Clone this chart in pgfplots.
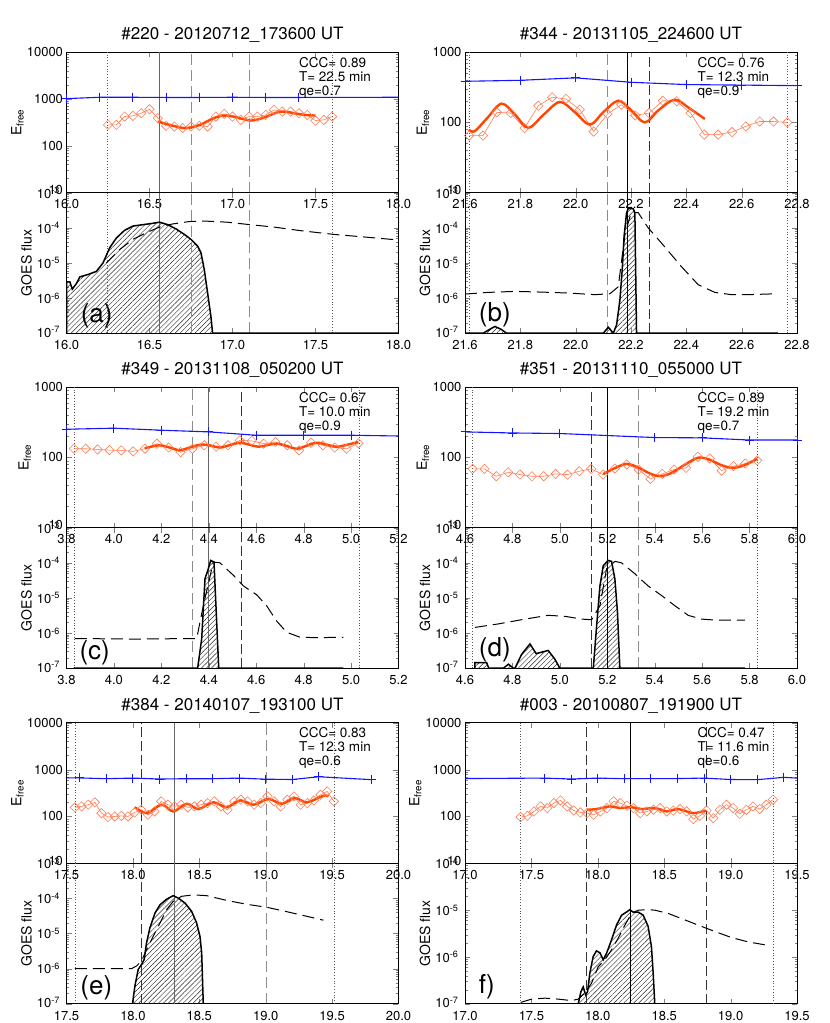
\documentclass[border=0pt]{standalone}
\usepackage{fontspec}
\setmainfont{TeX Gyre Heros}
\usepackage{pgfplots}
\pgfplotsset{compat=1.18}
\usepackage{pgfplotstable}
\usetikzlibrary{patterns.meta}

\definecolor{fitc}{RGB}{255,69,0}
\definecolor{diac}{RGB}{255,125,85}
\definecolor{bluec}{RGB}{20,20,255}

\tikzset{anno/.style={anchor=base west, inner sep=0pt, font=\fontsize{13.5}{15}\selectfont},
  plab/.style={inner sep=0pt, font=\fontsize{26}{28}\selectfont},
  zblm/.style={bluec, line width=1.1pt, mark=+, mark size=4.5pt, mark options={line width=0.9pt, solid}},
  zbln/.style={bluec, line width=1.1pt},
  zdia/.style={diac, line width=0.6pt, mark=square, mark size=3.3pt, mark options={rotate=45, line width=0.6pt}},
  zfit/.style={fitc, line width=2.4pt, smooth, tension=0.55},
  zdashg/.style={black!45, line width=1pt, dash pattern=on 11pt off 5pt},
  zdashk/.style={black!80, line width=0.6pt, dash pattern=on 10pt off 4pt},
  zsolg/.style={black!60, line width=0.8pt},
  zsolk/.style={black, line width=0.6pt},
  zdotl/.style={black!65, line width=0.7pt, dash pattern=on 0.8pt off 2pt},
  zgoes/.style={black, line width=1.5pt},
  zgoesd/.style={black, line width=1pt, dash pattern=on 12pt off 6pt},
  zhatch/.style={draw=none, pattern={Lines[angle=45,distance=3.5pt,line width=0.45pt]}, pattern color=black!85}}

\pgfplotsset{every axis/.append style={scale only axis, width=332pt, height=140.5pt, tick align=inside,
    major tick length=5pt, minor tick length=2.5pt,
    axis line style={line width=0.7pt},
    tick label style={font=\fontsize{13}{15}\selectfont},
    xticklabel style={yshift=-3.5pt},
    ymode=log, clip=true,
    title style={at={(0.5,1)}, anchor=base, yshift=6.5pt, font=\fontsize{17}{19}\selectfont},
    ylabel style={font=\fontsize{14}{16}\selectfont, anchor=south}}}

\pgfplotsset{
  zttop/.style={anchor=south west, ymin=10, ymax=10000, ytick={10,100,1000,10000},
    yticklabels={\raisebox{5pt}{10},100,1000,\raisebox{-3pt}{10000}},
    minor ytick={20,30,40,50,60,70,80,90,200,300,400,500,600,700,800,900,2000,3000,4000,5000,6000,7000,8000,9000},
    ylabel={E\textsubscript{free}}},
  zstop/.style={anchor=south west, ymin=10, ymax=1000, ytick={10,100,1000},
    yticklabels={\raisebox{5pt}{10},100,\raisebox{-3pt}{1000}},
    minor ytick={20,30,40,50,60,70,80,90,200,300,400,500,600,700,800,900},
    ylabel={E\textsubscript{free}}},
  ztbot/.style={anchor=north west, ymin=1e-7, ymax=1e-3, ytick={1e-7,1e-6,1e-5,1e-4,1e-3},
    yticklabels={\raisebox{3pt}{10\textsuperscript{-7}},10\textsuperscript{-6},10\textsuperscript{-5},10\textsuperscript{-4},\raisebox{-3pt}{10\textsuperscript{-3}}},
    minor ytick={2e-7,3e-7,4e-7,5e-7,6e-7,7e-7,8e-7,9e-7,2e-6,3e-6,4e-6,5e-6,6e-6,7e-6,8e-6,9e-6,2e-5,3e-5,4e-5,5e-5,6e-5,7e-5,8e-5,9e-5,2e-4,3e-4,4e-4,5e-4,6e-4,7e-4,8e-4,9e-4},
    yticklabel style={xshift=-3pt}, ylabel={GOES flux},
    ylabel style={at={(axis description cs:-0.094,0.5)}}},
  zsbot/.style={anchor=north west, ymin=1e-7, ymax=1e-4, ytick={1e-7,1e-6,1e-5,1e-4},
    yticklabels={\raisebox{3pt}{10\textsuperscript{-7}},10\textsuperscript{-6},10\textsuperscript{-5},\raisebox{-3pt}{10\textsuperscript{-4}}},
    minor ytick={2e-7,3e-7,4e-7,5e-7,6e-7,7e-7,8e-7,9e-7,2e-6,3e-6,4e-6,5e-6,6e-6,7e-6,8e-6,9e-6,2e-5,3e-5,4e-5,5e-5,6e-5,7e-5,8e-5,9e-5},
    yticklabel style={xshift=-3pt}, ylabel={GOES flux},
    ylabel style={at={(axis description cs:-0.094,0.5)}}},
  zxa/.style={xmin=16, xmax=18, xtick={16,16.5,17,17.5,18}, xticklabels={16.0,16.5,17.0,17.5,18.0}},
  zxb/.style={xmin=21.6, xmax=22.8, xtick={21.6,21.8,22.0,22.2,22.4,22.6,22.8}, xticklabels={21.6,21.8,22.0,22.2,22.4,22.6,22.8}},
  zxc/.style={xmin=3.8, xmax=5.2, xtick={3.8,4.0,4.2,4.4,4.6,4.8,5.0,5.2}, xticklabels={3.8,4.0,4.2,4.4,4.6,4.8,5.0,5.2}},
  zxd/.style={xmin=4.6, xmax=6.0, xtick={4.6,4.8,5.0,5.2,5.4,5.6,5.8,6.0}, xticklabels={4.6,4.8,5.0,5.2,5.4,5.6,5.8,6.0}},
  zxe/.style={xmin=17.5, xmax=20.0, xtick={17.5,18,18.5,19,19.5,20}, xticklabels={17.5,18.0,18.5,19.0,19.5,20.0}},
  zxf/.style={xmin=17.0, xmax=19.5, xtick={17,17.5,18,18.5,19,19.5}, xticklabels={17.0,17.5,18.0,18.5,19.0,19.5}},
}

\newcommand{\vln}[4]{\addplot[#1] coordinates {(#2,#3) (#2,#4)};}
\newcommand{\vla}[2]{\vln{zdotl}{16.245}{#1}{#2}\vln{zdotl}{17.60}{#1}{#2}\vln{zdashg}{16.75}{#1}{#2}\vln{zdashg}{17.10}{#1}{#2}\vln{zsolg}{16.56}{#1}{#2}}
\newcommand{\vlb}[2]{\vln{zdotl}{21.615}{#1}{#2}\vln{zdotl}{22.765}{#1}{#2}\vln{zdashg}{22.115}{#1}{#2}\vln{zdashk}{22.266}{#1}{#2}\vln{zsolk}{22.186}{#1}{#2}}
\newcommand{\vlc}[2]{\vln{zdotl}{3.831}{#1}{#2}\vln{zdotl}{5.034}{#1}{#2}\vln{zdashg}{4.332}{#1}{#2}\vln{zdashk}{4.535}{#1}{#2}\vln{zsolg}{4.40}{#1}{#2}}
\newcommand{\vld}[2]{\vln{zdotl}{4.632}{#1}{#2}\vln{zdotl}{5.832}{#1}{#2}\vln{zdashk}{5.131}{#1}{#2}\vln{zdashg}{5.333}{#1}{#2}\vln{zsolk}{5.201}{#1}{#2}}
\newcommand{\vle}[2]{\vln{zdotl}{17.563}{#1}{#2}\vln{zdotl}{19.515}{#1}{#2}\vln{zdashk}{18.065}{#1}{#2}\vln{zdashg}{19.008}{#1}{#2}\vln{zsolg}{18.309}{#1}{#2}}
\newcommand{\vlf}[2]{\vln{zdotl}{17.419}{#1}{#2}\vln{zdotl}{19.319}{#1}{#2}\vln{zdashk}{17.915}{#1}{#2}\vln{zdashk}{18.818}{#1}{#2}\vln{zsolk}{18.241}{#1}{#2}}
\newcommand{\ann}[3]{%
  \node[anno, yshift=-15pt] at (rel axis cs:0.70,1) {#1};
  \node[anno, yshift=-29pt] at (rel axis cs:0.70,1) {#2};
  \node[anno, yshift=-43pt] at (rel axis cs:0.70,1) {#3};}

\begin{document}

\pgfplotstableread{
x y
16.0 1e-7
16.0 2.9e-6
16.02 2.9e-6
16.035 1.8e-6
16.06 2.6e-6
16.08 4.0e-6
16.13 4.7e-6
16.18 5.75e-6
16.22 1.0e-5
16.26 2.7e-5
16.30 5.1e-5
16.35 8.5e-5
16.40 1.12e-4
16.46 1.23e-4
16.51 1.32e-4
16.56 1.45e-4
16.61 1.23e-4
16.66 9.3e-5
16.71 6.5e-5
16.75 4.7e-5
16.79 3.0e-5
16.81 1.95e-5
16.83 6.5e-6
16.85 1.4e-6
16.87 3.0e-7
16.88 1e-7
18.0 1e-7
}\ga
\pgfplotstableread{
x y
21.6 1e-7
21.666 1e-7
21.69 1.3e-7
21.708 1.55e-7
21.73 1.3e-7
21.75 1e-7
22.1 1e-7
22.118 1.48e-7
22.136 1e-7
22.148 1.74e-7
22.16 8.9e-7
22.169 7.9e-6
22.175 5.75e-5
22.184 2.7e-4
22.19 3.5e-4
22.208 3.5e-4
22.214 2.7e-4
22.22 1e-7
22.731 1e-7
}\gb
\pgfplotstableread{
x y
3.831 1e-7
4.353 1e-7
4.37 6.8e-7
4.384 3.5e-5
4.398 6.8e-5
4.408 1.17e-4
4.422 1.05e-4
4.442 1e-7
4.968 1e-7
}\gc
\pgfplotstableread{
x y
4.642 1e-7
4.642 1.45e-7
4.691 1.45e-7
4.70 1e-7
4.762 1e-7
4.783 1.3e-7
4.804 1e-7
4.811 1e-7
4.839 2.5e-7
4.874 4.9e-7
4.90 2.6e-7
4.951 3.2e-7
4.979 1.8e-7
5.0 1e-7
5.141 1e-7
5.155 1.6e-6
5.169 2.2e-5
5.183 8.3e-5
5.204 1.17e-4
5.218 1.1e-4
5.232 3.5e-5
5.243 3.9e-6
5.253 1e-7
5.78 1e-7
}\gd
\pgfplotstableread{
x y
17.563 1e-7
17.997 1e-7
18.015 3.2e-7
18.04 9.5e-7
18.065 1.32e-6
18.085 1.82e-6
18.103 5.5e-6
18.128 1.45e-5
18.166 3.8e-5
18.204 6.6e-5
18.254 9.5e-5
18.304 1.2e-4
18.342 1.02e-4
18.392 7.4e-5
18.442 4.3e-5
18.48 2.0e-5
18.505 8.3e-6
18.518 2.8e-6
18.53 1e-7
19.435 1e-7
}\gE
\pgfplotstableread{
x y
17.419 1e-7
17.853 1e-7
17.873 1.82e-7
17.89 2.3e-7
17.908 1.55e-7
17.923 1.82e-7
17.94 4.5e-7
17.965 1.02e-6
17.99 1.35e-6
18.016 1.23e-6
18.041 8.7e-7
18.066 1.2e-6
18.103 2.3e-6
18.141 4.8e-6
18.179 7.8e-6
18.216 9.1e-6
18.241 1.02e-5
18.266 9.1e-6
18.304 9.1e-6
18.342 7.8e-6
18.379 4.5e-6
18.404 1.66e-6
18.417 4.5e-7
18.429 1e-7
19.257 1e-7
}\gf

\begin{tikzpicture}
\path[use as bounding box] (0,0) rectangle (830pt,1023pt);

% ================= (a) =================
\begin{axis}[zttop, zxa, at={(66.5pt,830.3pt)}, title={\#220 - 20120712\_173600 UT},
  ylabel style={at={(axis description cs:-0.118,0.5)}}]
\vla{10}{10000}
\addplot[zbln] coordinates {(17.4,1080) (18.0,1090)};
\addplot[zblm] coordinates {(16.0,1020) (16.2,1090) (16.4,1090) (16.6,1080) (16.8,1080) (17.0,1090) (17.2,1080) (17.4,1080)};
\addplot[zdia] coordinates {(16.25,281) (16.30,281) (16.35,422) (16.40,437) (16.45,498) (16.50,603) (16.55,390) (16.60,268) (16.65,258) (16.70,240) (16.75,258) (16.80,268) (16.85,258) (16.90,422) (16.95,481) (17.00,422) (17.05,359) (17.10,422) (17.15,422) (17.20,458) (17.25,585) (17.30,538) (17.35,538) (17.40,498) (17.45,458) (17.50,347) (17.55,359) (17.60,422)};
\addplot[zfit] coordinates {(16.549,330) (16.60,295) (16.643,268) (16.69,245) (16.724,239) (16.76,252) (16.804,281) (16.845,330) (16.885,389) (16.945,443) (17.005,422) (17.05,385) (17.106,347) (17.15,365) (17.206,422) (17.25,490) (17.287,538) (17.33,530) (17.367,498) (17.43,460) (17.501,443)};
\ann{CCC= 0.89}{T= 22.5 min}{qe=0.7}
\end{axis}
\begin{axis}[ztbot, zxa, at={(66.5pt,830.3pt)}]
\addplot[zhatch] table {\ga};
\vla{1e-7}{1e-3}
\addplot[zgoesd] coordinates {(16.24,1.0e-5) (16.32,2.4e-5) (16.40,4.7e-5) (16.48,7.2e-5) (16.56,1.05e-4) (16.64,1.29e-4) (16.74,1.51e-4) (16.84,1.55e-4) (16.965,1.45e-4) (17.105,1.23e-4) (17.25,1.05e-4) (17.41,8.3e-5) (17.61,6.5e-5) (17.81,5.4e-5) (18.0,4.5e-5)};
\addplot[zgoes] table {\ga};
\node[plab] at (rel axis cs:0.091,0.125) {(a)};
\end{axis}

% ================= (b) =================
\begin{axis}[zstop, zxb, at={(465pt,830.3pt)}, title={\#344 - 20131105\_224600 UT},
  ylabel style={at={(axis description cs:-0.097,0.5)}}]
\vlb{10}{1000}
\addplot[zblm] coordinates {(21.6,385) (21.8,398) (22.0,431) (22.2,373) (22.4,346) (22.6,340) (22.8,334)};
\addplot[zdia] coordinates {(21.615,65) (21.665,65) (21.715,139) (21.765,136) (21.815,83) (21.865,173) (21.915,228) (21.965,216) (22.015,152) (22.065,74) (22.115,132) (22.165,179) (22.215,126) (22.265,136) (22.315,204) (22.365,200) (22.415,136) (22.465,67) (22.515,67) (22.565,73) (22.615,88) (22.665,103) (22.715,103) (22.765,100)};
\addplot[zfit] coordinates {(21.614,79) (21.635,75) (21.68,115) (21.732,185) (21.78,130) (21.829,84) (21.885,130) (21.943,196) (21.997,140) (22.051,93) (22.10,140) (22.154,204) (22.20,150) (22.25,100) (22.30,150) (22.358,211) (22.41,160) (22.467,112)};
\ann{CCC= 0.76}{T= 12.3 min}{qe=0.9}
\end{axis}
\begin{axis}[ztbot, zxb, at={(465pt,830.3pt)}]
\addplot[zhatch] table {\gb};
\vlb{1e-7}{1e-3}
\addplot[zgoesd] coordinates {(21.6,1.3e-6) (21.684,1.45e-6) (21.78,1.55e-6) (21.877,1.48e-6) (21.973,1.39e-6) (22.07,1.25e-6) (22.124,1.33e-6) (22.154,2.1e-6) (22.178,6.3e-5) (22.2,2.7e-4) (22.226,2.7e-4) (22.262,1.0e-4) (22.31,3.7e-5) (22.382,7.9e-6) (22.443,2.4e-6) (22.503,1.45e-6) (22.563,1.25e-6) (22.623,1.25e-6) (22.731,1.33e-6)};
\addplot[zgoes] table {\gb};
\node[plab] at (rel axis cs:0.09,0.13) {(b)};
\end{axis}

% ================= (c) =================
\begin{axis}[zstop, zxc, at={(66.5pt,495.3pt)}, title={\#349 - 20131108\_050200 UT},
  ylabel style={at={(axis description cs:-0.0965,0.5)}}]
\vlc{10}{1000}
\addplot[zbln] coordinates {(5.0,207) (5.2,202)};
\addplot[zblm] coordinates {(3.8,252) (4.0,261) (4.2,244) (4.4,231) (4.6,207) (4.8,207) (5.0,207)};
\addplot[zdia] coordinates {(3.831,133) (3.881,133) (3.931,130) (3.981,127) (4.031,126) (4.081,122) (4.131,133) (4.181,157) (4.231,138) (4.281,119) (4.331,133) (4.381,149) (4.431,142) (4.481,149) (4.531,175) (4.581,172) (4.631,157) (4.681,166) (4.731,149) (4.781,126) (4.831,162) (4.881,149) (4.931,138) (4.981,133) (5.031,159)};
\addplot[zfit] coordinates {(4.13,135) (4.16,143) (4.194,149) (4.236,138) (4.278,127) (4.324,140) (4.37,153) (4.41,147) (4.447,138) (4.49,150) (4.532,162) (4.57,152) (4.609,142) (4.648,150) (4.686,157) (4.73,145) (4.771,133) (4.813,147) (4.855,162) (4.898,152) (4.94,142) (4.985,152) (5.031,166)};
\ann{CCC= 0.67}{T= 10.0 min}{qe=0.9}
\end{axis}
\begin{axis}[ztbot, zxc, at={(66.5pt,495.3pt)}]
\addplot[zhatch] table {\gc};
\vlc{1e-7}{1e-3}
\addplot[zgoesd] coordinates {(3.835,7.0e-7) (4.081,6.75e-7) (4.349,7.0e-7) (4.377,6.0e-6) (4.419,1.05e-4) (4.447,1.0e-4) (4.504,4.4e-5) (4.546,2.2e-5) (4.602,1.23e-5) (4.644,6.0e-6) (4.686,2.2e-6) (4.729,1.05e-6) (4.785,7.6e-7) (4.855,7.4e-7) (4.968,7.6e-7)};
\addplot[zgoes] table {\gc};
\node[plab] at (rel axis cs:0.085,0.108) {(c)};
\end{axis}

% ================= (d) =================
\begin{axis}[zstop, zxd, at={(465pt,495.3pt)}, title={\#351 - 20131110\_055000 UT},
  ylabel style={at={(axis description cs:-0.097,0.5)}}]
\vld{10}{1000}
\addplot[zblm] coordinates {(4.6,231) (4.8,223) (5.0,219) (5.2,205) (5.4,192) (5.6,190) (5.8,177) (6.0,177)};
\addplot[zdia] coordinates {(4.632,68.7) (4.682,68.7) (4.732,54) (4.782,61.5) (4.832,57) (4.882,54) (4.932,54) (4.982,58.3) (5.032,57) (5.082,63.7) (5.132,68.7) (5.182,57) (5.232,69.5) (5.282,79.4) (5.332,67.3) (5.382,49.4) (5.432,58.3) (5.482,67.3) (5.532,71.1) (5.582,102) (5.632,96.8) (5.682,65) (5.732,75.1) (5.782,82) (5.832,90.6)};
\addplot[zfit] coordinates {(5.183,58) (5.23,70) (5.281,81) (5.33,72) (5.38,59) (5.422,54) (5.47,60) (5.53,80) (5.583,99) (5.63,93) (5.68,78) (5.73,71) (5.78,78) (5.832,96)};
\ann{CCC= 0.89}{T= 19.2 min}{qe=0.7}
\end{axis}
\begin{axis}[ztbot, zxd, at={(465pt,495.3pt)}]
\addplot[zhatch] table {\gd};
\vld{1e-7}{1e-3}
\addplot[zgoesd] coordinates {(4.642,1.45e-6) (4.74,1.82e-6) (4.853,2.5e-6) (4.951,3.2e-6) (5.021,3.0e-6) (5.092,2.5e-6) (5.134,2.4e-6) (5.169,6.0e-6) (5.197,6.8e-5) (5.232,1.1e-4) (5.26,1.0e-4) (5.316,4.9e-5) (5.372,2.2e-5) (5.429,1.17e-5) (5.485,6.0e-6) (5.541,3.2e-6) (5.597,2.5e-6) (5.653,2.35e-6) (5.78,2.35e-6)};
\addplot[zgoes] table {\gd};
\node[plab] at (rel axis cs:0.09,0.13) {(d)};
\end{axis}

% ================= (e) =================
\begin{axis}[zttop, zxe, at={(66.5pt,159.7pt)}, title={\#384 - 20140107\_193100 UT},
  ylabel style={at={(axis description cs:-0.118,0.5)}}]
\vle{10}{10000}
\addplot[zbln] coordinates {(17.5,670) (17.6,665)};
\addplot[zblm] coordinates {(17.6,665) (17.8,640) (18.0,660) (18.2,630) (18.4,640) (18.6,640) (18.8,660) (19.0,625) (19.2,615) (19.4,705) (19.8,610)};
\addplot[zdia] coordinates {(17.563,156) (17.613,164) (17.663,178) (17.713,200) (17.763,118) (17.813,97) (17.863,100) (17.913,103) (17.963,100) (18.013,122) (18.063,139) (18.113,109) (18.163,128) (18.213,210) (18.263,178) (18.313,164) (18.363,178) (18.413,156) (18.463,164) (18.513,178) (18.563,193) (18.613,210) (18.663,164) (18.713,139) (18.763,210) (18.813,228) (18.863,210) (18.913,178) (18.963,193) (19.013,268) (19.063,210) (19.113,164) (19.163,228) (19.213,268) (19.263,178) (19.313,193) (19.363,220) (19.413,291) (19.463,343) (19.513,210)};
\addplot[zfit] coordinates {(18.015,158) (18.103,118) (18.216,178) (18.304,128) (18.405,187) (18.492,144) (18.606,200) (18.707,158) (18.807,220) (18.907,178) (19.02,235) (19.121,187) (19.22,247) (19.31,200) (19.435,277) (19.473,269)};
\ann{CCC= 0.83}{T= 12.3 min}{qe=0.6}
\end{axis}
\begin{axis}[ztbot, zxe, at={(66.5pt,159.7pt)}]
\addplot[zhatch] table {\gE};
\vle{1e-7}{1e-3}
\addplot[zgoesd] coordinates {(17.563,1.0e-6) (17.751,1.0e-6) (17.99,1.0e-6) (18.028,1.2e-6) (18.065,1.66e-6) (18.103,3.5e-6) (18.153,8.3e-6) (18.204,2.0e-5) (18.254,4.8e-5) (18.304,8.3e-5) (18.367,1.15e-4) (18.455,1.26e-4) (18.555,1.2e-4) (18.706,8.8e-5) (18.857,6.8e-5) (19.008,5.6e-5) (19.158,4.2e-5) (19.309,3.1e-5) (19.435,2.4e-5)};
\addplot[zgoes] table {\gE};
\node[plab] at (rel axis cs:0.09,0.112) {(e)};
\end{axis}

% ================= (f) =================
\begin{axis}[zttop, zxf, at={(465pt,159.7pt)}, title={\#003 - 20100807\_191900 UT},
  ylabel style={at={(axis description cs:-0.12,0.5)}}]
\vlf{10}{10000}
\addplot[zbln] coordinates {(17.0,645) (17.6,660)};
\addplot[zbln] coordinates {(19.4,685) (19.5,660)};
\addplot[zblm] coordinates {(17.6,660) (17.8,630) (18.0,660) (18.2,640) (18.4,645) (18.6,645) (18.8,660) (19.0,615) (19.2,610) (19.4,685)};
\addplot[zdia] coordinates {(17.419,96.8) (17.469,103) (17.519,128) (17.569,164) (17.619,151) (17.669,193) (17.719,220) (17.769,164) (17.819,134) (17.869,122) (17.919,118) (17.969,109) (18.019,128) (18.069,151) (18.119,210) (18.169,193) (18.219,169) (18.269,151) (18.319,118) (18.369,128) (18.419,139) (18.469,151) (18.519,128) (18.569,134) (18.619,144) (18.669,128) (18.719,88) (18.769,103) (18.819,134) (18.869,92) (18.919,139) (18.969,178) (19.019,151) (19.069,114) (19.119,139) (19.169,164) (19.219,144) (19.269,178) (19.319,228)};
\addplot[zfit] coordinates {(17.916,139) (17.991,144) (18.091,164) (18.166,151) (18.254,158) (18.33,144) (18.43,151) (18.518,128) (18.605,144) (18.718,118) (18.813,135)};
\ann{CCC= 0.47}{T= 11.6 min}{qe=0.6}
\end{axis}
\begin{axis}[zsbot, zxf, at={(465pt,159.7pt)}]
\addplot[zhatch] table {\gf};
\vlf{1e-7}{1e-4}
\addplot[zgoesd] coordinates {(17.419,1.07e-7) (17.502,1.26e-7) (17.602,1.32e-7) (17.702,1.26e-7) (17.802,1.17e-7) (17.853,1.26e-7) (17.903,1.7e-7) (17.953,2.75e-7) (18.003,6.2e-7) (18.053,8.7e-7) (18.103,1.41e-6) (18.153,2.5e-6) (18.204,4.8e-6) (18.254,8.5e-6) (18.304,1.0e-5) (18.379,1.02e-5) (18.429,1.0e-5) (18.53,8.5e-6) (18.63,6.6e-6) (18.755,4.8e-6) (18.881,3.5e-6) (19.006,2.6e-6) (19.131,2.1e-6) (19.257,1.82e-6)};
\addplot[zgoes] table {\gf};
\node[plab] at (rel axis cs:0.066,0.12) {f)};
\end{axis}

\end{tikzpicture}
\end{document}
